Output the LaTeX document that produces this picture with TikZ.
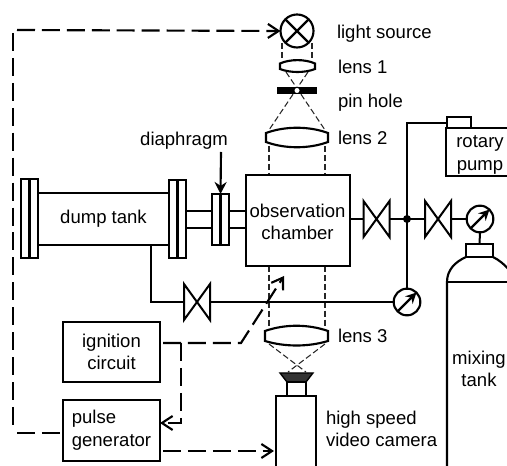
\documentclass[tikz,border=0pt]{standalone}
\usepackage{fontspec}
\setmainfont{Liberation Sans}
\usetikzlibrary{arrows.meta}
\tikzset{
  every node/.style={inner sep=0pt,outer sep=0pt,font=\fontsize{13.9pt}{16pt}\selectfont},
  sz/.style 2 args={minimum width=#1*0.75pt,minimum height=#2*0.75pt},
  box/.style={draw,line width=1.5pt},
  lbl/.style={anchor=base west},
  ctr/.style={align=center},
  pipe/.style={line width=1.5pt},
  beam/.style={line width=0.8pt,black!85,dash pattern=on 4.5pt off 2.2pt},
  ctrl/.style={line width=1.6pt,dash pattern=on 13.5pt off 5.2pt},
  open/.style={-{Straight Barb[length=8pt,width=10.5pt,line width=1.6pt]}},
  gaugeball/.style={circle,draw,line width=1.6pt,fill=white,minimum size=20pt},
  valvebox/.style={sz={26}{36}},
}
\begin{document}
\begin{tikzpicture}[x=0.75pt,y=-0.75pt,line join=miter]
\useasboundingbox (0,0) rectangle (507,466);
% beams
\coordinate (lampL) at (282,43); \coordinate (lampR) at (312,43);
\coordinate (l1Lt) at (282,60); \coordinate (l1Rt) at (312,60);
\draw[beam] (lampL)--(l1Lt) (lampR)--(l1Rt);
\draw[beam] (286,72)--(325,130) (308,72)--(269,130);
\draw[beam] (269,146)--(269,175) (325,146)--(325,175);
\draw[beam] (269,266)--(269,328) (325,266)--(325,328);
\draw[beam] (269,344)--(306,372) (325,344)--(288,372);
% lamp
\node[circle,draw,line width=1.6pt,minimum size=33*0.75pt] (lamp) at (297,31) {};
\draw[line width=1.6pt] (lamp.45)--(lamp.225) (lamp.135)--(lamp.315);
% lenses
\draw[line width=1.6pt,fill=white] (280,63.5) .. controls (290,59) and (305,59) .. (315,63.5) -- (315,69) .. controls (305,73) and (290,73) .. (280,69) -- cycle;
\fill (277,87) rectangle (317,94);
\fill[white] (297,90.5) circle (2.5);
\draw[line width=1.6pt,fill=white] (266,133) .. controls (285,126) and (309,126) .. (328,133) -- (328,142) .. controls (309,149) and (285,149) .. (266,142) -- cycle;
\draw[line width=1.6pt,fill=white] (265,331) .. controls (285,324) and (308,324) .. (328,331) -- (328,341) .. controls (308,347) and (285,347) .. (265,341) -- cycle;
% camera
\draw[line width=1pt,fill=black!80] (280,373) -- (313,373) -- (306,382) -- (287,382) -- cycle;
\draw[line width=1.6pt] (287,382) rectangle (306,396);
\draw[line width=1.6pt] (276,470) -- (276,396) -- (316,396) -- (316,470);
% dump tank
\node[box,sz={131}{52}] (tank) at (103.5,219) {\raisebox{-1pt}{dump tank}};
\node[box,sz={17}{79}] (fl1) at (29.5,218.5) {};
\draw[line width=1.6pt] (fl1.north)--(fl1.south);
\node[box,sz={17}{78}] (fr1) at (177.5,219) {};
\draw[line width=1.6pt] (fr1.north)--(fr1.south);
\draw[line width=2pt] (fr1.north west)--(fr1.south west);
\node[box,sz={17}{51}] (dia) at (220.5,219.5) {};
\draw[line width=1.6pt] (dia.north)--(dia.south);
\node[box,sz={104}{91}] (chamber) at (297.5,220.5) {};
\node[ctr] (chamberL) at (297.5,222) {observation\\[1pt]chamber};
\draw[line width=1.6pt] (186,211)--(212,211) (186,228)--(212,228) (229,211)--(245,211) (229,228)--(245,228);
% diaphragm label and arrow
\node[anchor=base] (diaL) at (184,146) {diaphragm};
\coordinate (diaTop) at (221,152);
\draw[line width=1.6pt,-{Stealth[length=9pt,width=9pt]}] (diaTop)--(dia.north);
% valves and gauges
\node[valvebox] (v1) at (376.5,219) {};
\node[valvebox] (v2) at (438,219) {};
\node[valvebox] (v3) at (197,302) {};
\foreach \v in {v1,v2,v3}
  \draw[line width=1.5pt] (\v.north west)--(\v.south east)--(\v.north east)--(\v.south west)--cycle;
\node[gaugeball] (g1) at (480,219) {};
\node[gaugeball] (g2) at (407,302) {};
\foreach \g in {g1,g2}
  \draw[line width=1.7pt,-{Stealth[length=8pt,width=8pt]}] (\g.225)--(\g.45);
\fill (407,219) circle (4) coordinate (junc);
\draw[pipe] (chamber.east |- v1) -- (v1.west) (v1.east) -- (v2.west) (v2.east) -- (g1.west);
\coordinate (pumpin) at (407,123);
\draw[pipe] (g2.north) -- (pumpin) -- (446,123);
\draw[pipe] (151,245) -- (151,302) -- (v3.west) (v3.east) -- (g2.west);
% pump
\node[box,sz={24}{11}] (pumpcap) at (458.5,122.5) {};
\draw[line width=1.6pt] (514,128) -- (446,128) -- (446,176) -- (514,176);
\node[ctr] (pumpL) at (480,155) {rotary\\[1pt]pump};
% mixing tank
\node[box,sz={27}{13}] (reg) at (479.5,250.5) {};
\draw[pipe] (g1.south) -- (reg.north);
\draw[line width=1.6pt] (447,470) -- (447,282) .. controls (447,270) and (455,262) .. (466,257);
\draw[line width=1.6pt] (493,257) .. controls (499,260) and (504,264) .. (510,271);
\draw[line width=1.6pt] (447,282) -- (510,282);
\node[ctr] (mixL) at (479,369) {mixing\\[1pt]tank};
% electronics
\node[box,sz={97}{60},ctr] (ign) at (111.5,352) {ignition\\[1pt]circuit};
\node[box,sz={97}{61},align=left] (pulse) at (111.5,430.5) {pulse\\[1pt]generator};
\coordinate (ignout) at (163,343); \coordinate (corn) at (181,343);
\coordinate (elbow) at (241,343); \coordinate (spark) at (284,276);
\coordinate (lft) at (17,30); \coordinate (lfv) at (13,33); \coordinate (lfb) at (13,431);
\coordinate (lfh) at (17,433);
\coordinate (pulseout) at (163,451); \coordinate (camin) at (274,451);
\draw[ctrl] (lfv) -- (lfb);
\draw[ctrl] (lfh) -- (pulse.west |- lfh);
\draw[ctrl,open] (lft) -- (lamp.west);
\draw[ctrl,open] (ignout) -- (elbow) -- (spark);
\draw[ctrl,open] (corn) -- (181,423) -- (pulse.east |- 181,423);
\draw[ctrl,open] (pulseout) -- (camin);
% labels
\node[lbl] (ls) at (337,38.5) {light source};
\node[lbl] (l1) at (338,74) {lens 1};
\node[lbl] (ph) at (338,108) {pin hole};
\node[lbl] (l2) at (338,145) {lens 2};
\node[lbl] (l3) at (338,343) {lens 3};
\node[anchor=west,align=left] (hs) at (326,429) {high speed\\[1pt]video camera};
\end{tikzpicture}
\end{document}
